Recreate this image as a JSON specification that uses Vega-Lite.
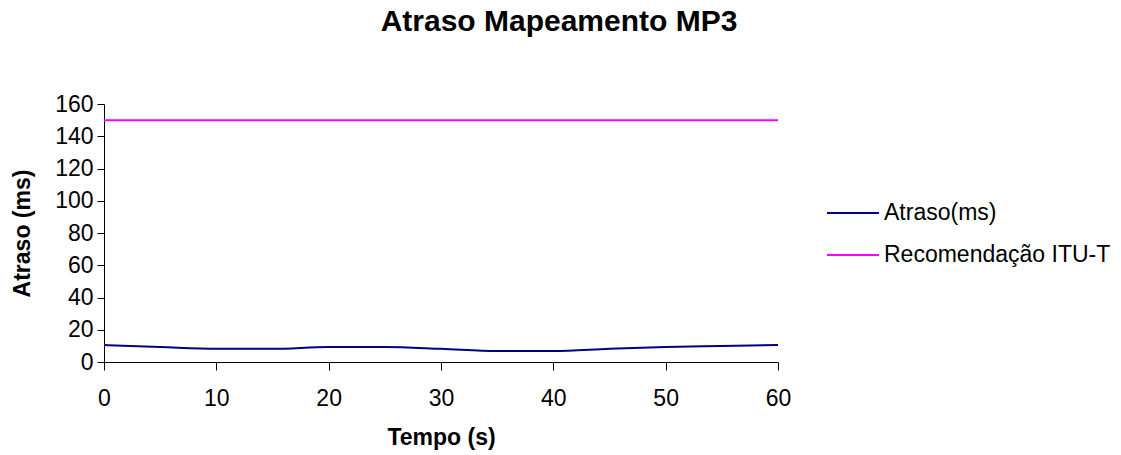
{
  "$schema": "https://vega.github.io/schema/vega-lite/v6.json",
  "autosize": "none",
  "width": 674,
  "height": 258,
  "padding": {"left": 104, "top": 104, "right": 343, "bottom": 93},
  "background": "white",
  "title": {
    "text": "Atraso Mapeamento MP3",
    "font": "Liberation Sans",
    "fontSize": 30,
    "fontWeight": "bold",
    "color": "black",
    "dx": 118,
    "offset": 56
  },
  "config": {
    "view": {"stroke": null},
    "font": "Liberation Sans"
  },
  "data": {
    "values": [
      {"t": 0, "v": 10.5, "s": "Atraso(ms)"},
      {"t": 5, "v": 9.3, "s": "Atraso(ms)"},
      {"t": 10, "v": 8.2, "s": "Atraso(ms)"},
      {"t": 15, "v": 8.2, "s": "Atraso(ms)"},
      {"t": 20, "v": 9.3, "s": "Atraso(ms)"},
      {"t": 25, "v": 9.3, "s": "Atraso(ms)"},
      {"t": 30, "v": 8.2, "s": "Atraso(ms)"},
      {"t": 35, "v": 6.8, "s": "Atraso(ms)"},
      {"t": 40, "v": 6.8, "s": "Atraso(ms)"},
      {"t": 45, "v": 8.2, "s": "Atraso(ms)"},
      {"t": 50, "v": 9.3, "s": "Atraso(ms)"},
      {"t": 55, "v": 9.9, "s": "Atraso(ms)"},
      {"t": 60, "v": 10.5, "s": "Atraso(ms)"},
      {"t": 0, "v": 150, "s": "Recomendação ITU-T"},
      {"t": 60, "v": 150, "s": "Recomendação ITU-T"}
    ]
  },
  "mark": {"type": "line", "strokeWidth": 2, "interpolate": "monotone"},
  "encoding": {
    "x": {
      "field": "t",
      "type": "quantitative",
      "scale": {"domain": [0, 60], "nice": false},
      "axis": {
        "title": "Tempo (s)",
        "values": [0, 10, 20, 30, 40, 50, 60],
        "grid": false,
        "labelFlush": false,
        "domainColor": "black",
        "tickColor": "black",
        "tickSize": 8,
        "labelFontSize": 23,
        "labelColor": "black",
        "labelPadding": 17,
        "titleFontSize": 23,
        "titleFontWeight": "bold",
        "titleColor": "black",
        "titlePadding": 16
      }
    },
    "y": {
      "field": "v",
      "type": "quantitative",
      "scale": {"domain": [0, 160], "nice": false},
      "axis": {
        "title": "Atraso (ms)",
        "values": [0, 20, 40, 60, 80, 100, 120, 140, 160],
        "grid": false,
        "labelFlush": false,
        "domainColor": "black",
        "tickColor": "black",
        "tickSize": 7,
        "labelFontSize": 23,
        "labelColor": "black",
        "labelPadding": 4,
        "titleFontSize": 23,
        "titleFontWeight": "bold",
        "titleColor": "black",
        "titlePadding": 20
      }
    },
    "color": {
      "field": "s",
      "type": "nominal",
      "scale": {"domain": ["Atraso(ms)", "Recomendação ITU-T"], "range": ["#000080", "#FF00FF"]},
      "legend": {
        "title": null,
        "orient": "none",
        "legendX": 722,
        "legendY": 82,
        "symbolType": "stroke",
        "symbolSize": 2704,
        "symbolStrokeWidth": 2,
        "labelFontSize": 23,
        "labelLimit": 400,
        "labelColor": "black",
        "labelOffset": 4,
        "rowPadding": 3
      }
    }
  }
}
